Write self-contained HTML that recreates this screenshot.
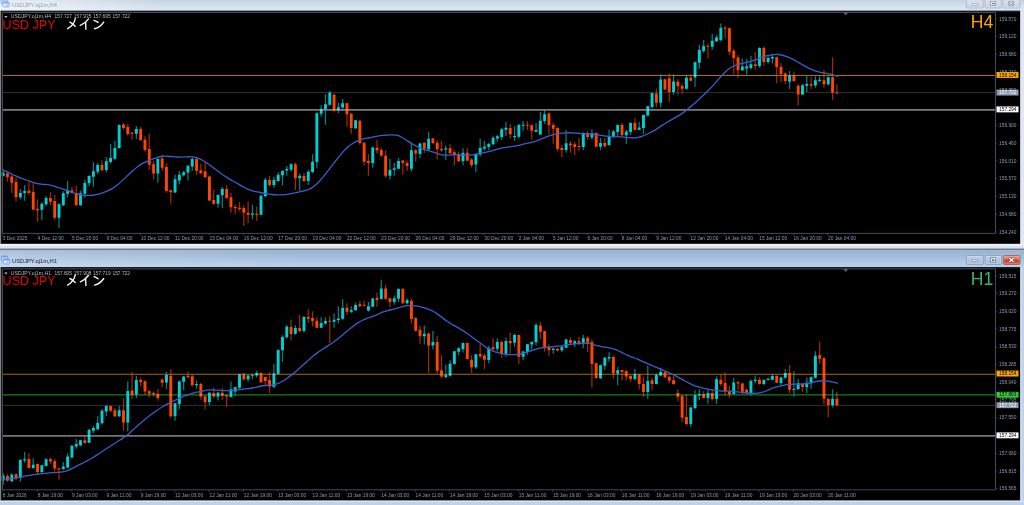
<!DOCTYPE html>
<html><head><meta charset="utf-8"><title>USDJPY</title>
<style>
html,body{margin:0;padding:0;background:#dfe7f2;}
body{width:1024px;height:505px;overflow:hidden;position:relative;font-family:"Liberation Sans",sans-serif;}
svg{position:absolute;left:0;top:0;display:block}
text{font-family:"Liberation Sans",sans-serif;}
</style></head><body>
<svg width="1024" height="505" viewBox="0 0 1024 505">
<defs>
<filter id="bl" x="-0.02" y="-0.02" width="1.04" height="1.04"><feGaussianBlur stdDeviation="0.3"/></filter>
<filter id="bt1" x="-0.05" y="-0.5" width="1.1" height="2"><feGaussianBlur stdDeviation="0.25"/></filter>
<linearGradient id="t1" x1="0" y1="0" x2="0" y2="1"><stop offset="0" stop-color="#c6d4e2"/><stop offset="1" stop-color="#dde9f6"/></linearGradient>
<linearGradient id="t2" x1="0" y1="0" x2="0" y2="1"><stop offset="0" stop-color="#98b2d3"/><stop offset="1" stop-color="#bad1eb"/></linearGradient>
<linearGradient id="hl" x1="0" y1="0" x2="1" y2="0"><stop offset="0" stop-color="#fff" stop-opacity=".55"/><stop offset=".06" stop-color="#fff" stop-opacity=".4"/><stop offset=".16" stop-color="#fff" stop-opacity="0"/><stop offset="1" stop-color="#fff" stop-opacity="0"/></linearGradient>
<linearGradient id="hl2" x1="0" y1="0" x2="1" y2="0"><stop offset="0" stop-color="#fff" stop-opacity=".2"/><stop offset=".08" stop-color="#fff" stop-opacity=".14"/><stop offset=".3" stop-color="#fff" stop-opacity="0"/><stop offset="1" stop-color="#fff" stop-opacity="0"/></linearGradient>
<linearGradient id="bt" x1="0" y1="0" x2="0" y2="1"><stop offset="0" stop-color="#d9e2ef"/><stop offset="1" stop-color="#cbd6e6"/></linearGradient>
<linearGradient id="bt2" x1="0" y1="0" x2="0" y2="1"><stop offset="0" stop-color="#c4d4ec"/><stop offset=".5" stop-color="#b2c6e2"/><stop offset="1" stop-color="#a9bfdd"/></linearGradient>
<linearGradient id="cl" x1="0" y1="0" x2="0" y2="1"><stop offset="0" stop-color="#eeb2a2"/><stop offset=".45" stop-color="#d8634a"/><stop offset=".52" stop-color="#c63c22"/><stop offset="1" stop-color="#da6a50"/></linearGradient>
</defs>
<!-- top (inactive) window -->
<rect x="0" y="0" width="1024" height="250" fill="#dfe7f2"/>
<rect x="0" y="0" width="1024" height="11" fill="url(#t1)"/>
<rect x="0" y="0" width="1024" height="11" fill="url(#hl)"/>
<rect x="0" y="243.8" width="1024" height="5.2" fill="#d9e5f3"/>
<rect x="0" y="243.8" width="1024" height="1.7" fill="#f0f4fa"/>
<rect x="0" y="248.6" width="1024" height="1.6" fill="#62666c"/>
<!-- active window frame -->
<rect x="0" y="249.9" width="1024" height="256" fill="#bdd2ec"/>
<rect x="0" y="249.9" width="1024" height="1" fill="#a9b9cc"/>
<rect x="0" y="250.7" width="1024" height="16.4" fill="url(#t2)"/>
<rect x="0" y="250.7" width="1024" height="16.4" fill="url(#hl2)"/>
<rect x="0" y="10.80" width="1.05" height="233.00" fill="#828282"/>
<rect x="1" y="10.80" width="1019.2" height="233.00" fill="#000"/>
<rect x="1" y="10.80" width="1019.2" height="1.6" fill="#1b1e22"/>
<rect x="1" y="10.80" width="1" height="233.00" fill="#181818"/>
<rect x="1020.1" y="10.80" width="1" height="233.00" fill="#c4c8d0"/>
<rect x="1021.1" y="10.80" width="1" height="233.00" fill="#e4ecf6"/>
<g filter="url(#bl)">
<path d="M3.15 171.54V176.61M20.34 189.03V199.43M24.64 185.23V200.69M41.83 202.21V219.92M46.12 195.88V206.02M59.02 202.97V228.16M63.32 191.19V206.02M67.61 181.05V197.14M80.51 190.81V205.76M84.80 179.40V197.90M89.10 175.35V186.12M93.40 162.04V186.75M97.70 162.93V174.08M106.29 156.97V172.56M110.59 143.96V163.86M114.89 140.80V160.06M119.18 124.57V148.65M136.37 126.10V138.90M157.86 158.24V182.70M175.05 174.71V193.09M179.35 170.91V183.96M183.65 170.91V176.61M187.94 165.21V180.42M192.24 157.60V170.91M218.03 194.36V207.66M222.32 187.01V208.30M252.41 204.81V219.13M261.00 194.42V215.33M265.30 177.69V196.95M273.89 176.42V187.83M278.19 172.24V181.74M282.49 170.08V185.29M286.79 165.90V175.66M291.08 163.23V171.47M299.68 173.50V190.87M308.27 169.70V184.91M312.57 154.36V173.37M316.87 112.46V168.04M321.17 105.23V116.64M325.46 94.08V124.75M329.76 91.29V105.74M338.36 102.70V113.09M342.65 98.90V110.81M355.55 120.06V128.93M372.74 146.50V167.66M389.93 159.03V179.56M394.22 162.84V175.76M398.52 158.02V169.17M411.41 143.07V171.71M420.01 142.81V158.02M428.60 132.04V150.42M445.79 145.60V159.92M462.98 148.13V165.62M475.88 153.58V171.96M480.17 138.47V156.59M484.47 140.75V150.26M488.77 142.65V150.26M493.06 135.94V145.19M497.36 135.05V141.77M501.66 128.08V139.74M505.96 121.74V136.32M514.55 126.18V141.01M518.85 123.64V138.47M523.15 121.11V130.87M536.04 123.01V132.13M540.34 111.86V135.05M544.63 109.70V123.64M566.12 129.98V152.79M583.31 132.13V149.88M591.91 129.35V139.74M600.50 137.88V150.30M609.10 129.39V145.86M613.39 130.02V137.88M617.69 124.32V135.72M626.29 129.77V143.96M630.59 122.42V135.09M639.18 121.78V130.02M643.48 114.56V134.08M647.77 105.69V116.71M652.07 92.63V108.48M660.67 74.22V107.42M673.56 74.22V94.75M686.45 74.85V89.43M695.05 61.80V86.64M699.35 45.05V68.75M703.64 39.98V52.65M712.24 33.64V49.74M716.54 34.91V41.88M720.83 23.50V41.25M742.32 58.38V71.05M746.62 58.76V74.85M750.92 55.84V69.78M759.51 47.20V67.86M768.11 56.46V63.68M772.40 54.81V63.43M789.59 70.91V89.03M802.49 83.96V94.99M806.78 75.98V92.08M815.38 76.36V87.77M819.68 75.98V81.68M828.27 76.61V85.74" stroke="#00d0d2" stroke-width="1.25" opacity=".62" fill="none"/>
<path d="M7.45 172.18V181.68M11.75 175.35V193.09M16.04 177.25V201.71M28.94 181.68V194.61M33.23 183.20V210.83M37.53 199.17V221.82M50.42 192.20V205.13M54.72 194.99V220.30M71.91 187.01V193.72M76.21 185.87V205.51M101.99 160.14V171.29M123.48 123.05V129.64M127.78 123.94V135.73M132.08 131.80V139.78M140.67 127.11V140.42M144.97 136.36V151.82M149.27 134.08V170.20M153.56 160.77V179.40M162.16 154.82V170.91M166.46 163.31V192.84M170.75 189.92V203.86M196.54 158.24V175.09M200.84 163.94V174.08M205.13 162.42V177.88M209.43 175.60V200.95M213.73 189.54V204.75M226.62 185.23V198.79M230.92 192.51V212.79M235.22 204.81V214.06M239.51 202.02V210.89M243.81 205.19V226.10M248.11 201.39V223.31M256.70 206.46V221.03M269.59 175.66V186.56M295.38 162.59V189.98M303.98 173.12V181.74M334.06 93.45V112.46M346.95 102.70V126.78M351.25 113.09V133.83M359.84 120.31V144.71M364.14 142.32V165.51M368.44 154.10V175.76M377.03 139.78V153.72M381.33 147.77V156.89M385.63 150.16V177.66M402.82 159.92V174.75M407.12 160.55V170.69M415.71 149.15V161.82M424.31 142.18V152.95M432.90 137.74V144.33M437.20 140.28V159.29M441.50 140.91V151.68M450.09 144.33V153.96M454.39 150.16V165.37M458.69 151.43V162.08M467.28 147.88V161.57M471.58 158.02V167.52M510.25 124.02V138.85M527.45 121.11V129.98M531.74 124.53V139.49M548.93 112.24V134.16M553.23 122.38V143.54M557.53 127.07V151.52M561.83 144.81V157.23M570.42 141.01V152.79M574.72 142.02V154.95M579.01 137.96V150.89M587.61 131.25V139.74M596.21 132.13V147.34M604.80 137.88V147.76M621.99 123.05V136.10M634.88 118.61V130.65M656.37 88.79V106.91M664.97 78.65V90.06M669.26 73.20V101.85M677.86 79.29V94.75M682.15 83.34V93.86M690.75 74.22V81.19M707.94 43.40V58.61M725.13 25.66V38.71M729.43 27.69V55.19M733.73 48.87V74.22M738.02 54.95V77.77M755.21 52.04V69.78M763.81 46.32V65.71M776.70 56.59V83.20M781.00 63.31V81.68M785.30 72.18V84.22M793.89 71.80V81.68M798.19 83.96V105.13M811.08 77.25V89.03M823.97 70.02V87.77M832.57 57.35V99.68M836.87 83.96V94.10" stroke="#ff4500" stroke-width="1.25" opacity=".62" fill="none"/>
<path d="M1.70 172.56h2.9V175.98h-2.9zM18.89 193.09h2.9V197.14h-2.9zM23.19 190.93h2.9V193.09h-2.9zM40.38 203.86h2.9V209.82h-2.9zM44.67 197.90h2.9V204.24h-2.9zM57.57 204.24h2.9V217.77h-2.9zM61.87 193.34h2.9V205.13h-2.9zM66.16 190.55h2.9V193.72h-2.9zM79.06 193.34h2.9V205.13h-2.9zM83.35 182.95h2.9V193.72h-2.9zM87.65 175.98h2.9V183.20h-2.9zM91.95 171.29h2.9V176.87h-2.9zM96.25 164.95h2.9V171.80h-2.9zM104.84 161.15h2.9V170.02h-2.9zM109.14 157.90h2.9V161.96h-2.9zM113.44 148.02h2.9V158.79h-2.9zM117.73 124.95h2.9V148.02h-2.9zM134.92 129.01h2.9V133.70h-2.9zM156.41 159.12h2.9V173.45h-2.9zM173.60 179.15h2.9V192.46h-2.9zM177.90 174.71h2.9V180.42h-2.9zM182.20 172.18h2.9V175.35h-2.9zM186.49 165.84h2.9V172.56h-2.9zM190.79 159.12h2.9V166.48h-2.9zM216.58 194.99h2.9V203.86h-2.9zM220.87 189.03h2.9V195.37h-2.9zM250.96 213.43h2.9V214.69h-2.9zM259.55 195.68h2.9V214.69h-2.9zM263.85 179.84h2.9V196.32h-2.9zM272.44 180.10h2.9V184.91h-2.9zM276.74 174.77h2.9V181.11h-2.9zM281.04 170.97h2.9V175.15h-2.9zM285.34 169.07h2.9V170.59h-2.9zM289.63 164.24h2.9V169.82h-2.9zM298.23 175.66h2.9V178.19h-2.9zM306.82 171.86h2.9V181.11h-2.9zM311.12 161.71h2.9V172.10h-2.9zM315.42 113.34h2.9V161.96h-2.9zM319.72 109.03h2.9V113.72h-2.9zM324.01 104.22h2.9V109.29h-2.9zM328.31 92.56h2.9V104.85h-2.9zM336.91 107.13h2.9V110.55h-2.9zM341.20 103.20h2.9V107.39h-2.9zM354.10 120.31h2.9V128.30h-2.9zM371.29 147.39h2.9V162.97h-2.9zM388.48 169.81h2.9V175.76h-2.9zM392.77 168.16h2.9V169.81h-2.9zM397.07 160.93h2.9V168.79h-2.9zM409.96 150.16h2.9V168.79h-2.9zM418.56 143.45h2.9V153.96h-2.9zM427.15 138.76h2.9V149.15h-2.9zM444.34 148.13h2.9V149.40h-2.9zM461.53 152.70h2.9V161.19h-2.9zM474.43 154.47h2.9V164.61h-2.9zM478.72 148.10h2.9V154.44h-2.9zM483.02 146.84h2.9V148.61h-2.9zM487.32 143.92h2.9V147.09h-2.9zM491.62 137.96h2.9V144.30h-2.9zM495.91 136.32h2.9V138.47h-2.9zM500.21 129.35h2.9V136.95h-2.9zM504.51 127.83h2.9V129.73h-2.9zM513.10 136.01h2.9V137.01h-2.9zM517.40 124.91h2.9V136.70h-2.9zM521.70 124.85h2.9V125.85h-2.9zM534.59 129.98h2.9V131.63h-2.9zM538.89 120.73h2.9V134.42h-2.9zM543.18 114.14h2.9V121.11h-2.9zM564.67 143.29h2.9V149.88h-2.9zM581.86 133.40h2.9V147.09h-2.9zM590.46 133.40h2.9V137.58h-2.9zM599.05 142.95h2.9V146.75h-2.9zM607.65 136.61h2.9V144.97h-2.9zM611.94 131.54h2.9V136.99h-2.9zM616.24 124.95h2.9V131.92h-2.9zM624.84 131.54h2.9V135.34h-2.9zM629.13 123.05h2.9V131.92h-2.9zM637.73 127.49h2.9V129.77h-2.9zM642.03 115.07h2.9V128.12h-2.9zM646.32 106.19h2.9V115.45h-2.9zM650.62 93.01h2.9V106.95h-2.9zM659.22 79.54h2.9V102.73h-2.9zM672.11 81.57h2.9V92.21h-2.9zM685.00 77.77h2.9V88.79h-2.9zM693.60 62.18h2.9V77.39h-2.9zM697.89 50.12h2.9V62.79h-2.9zM702.19 45.94h2.9V51.01h-2.9zM710.79 40.87h2.9V46.70h-2.9zM715.09 37.45h2.9V41.25h-2.9zM719.38 27.69h2.9V40.36h-2.9zM740.87 66.61h2.9V70.16h-2.9zM745.17 66.61h2.9V68.51h-2.9zM749.47 64.33h2.9V67.88h-2.9zM758.06 47.96h2.9V65.96h-2.9zM766.65 57.72h2.9V61.90h-2.9zM770.95 57.09h2.9V58.61h-2.9zM788.14 75.60h2.9V81.68h-2.9zM801.03 85.23h2.9V94.61h-2.9zM805.33 83.96h2.9V85.74h-2.9zM813.93 80.16h2.9V85.49h-2.9zM818.23 79.78h2.9V81.05h-2.9zM826.82 77.25h2.9V84.22h-2.9z" fill="#00d0d2"/>
<path d="M6.00 173.45h2.9V176.99h-2.9zM10.30 176.61h2.9V182.70h-2.9zM14.59 181.94h2.9V197.14h-2.9zM27.49 190.81h2.9V193.09h-2.9zM31.78 192.08h2.9V209.56h-2.9zM36.08 208.90h2.9V210.16h-2.9zM48.97 197.90h2.9V201.71h-2.9zM53.27 200.95h2.9V217.77h-2.9zM70.46 190.30h2.9V193.09h-2.9zM74.76 193.09h2.9V205.13h-2.9zM100.54 164.95h2.9V170.28h-2.9zM122.03 124.57h2.9V128.12h-2.9zM126.33 127.11h2.9V134.08h-2.9zM130.63 132.81h2.9V133.83h-2.9zM139.22 129.01h2.9V140.16h-2.9zM143.52 139.78h2.9V149.92h-2.9zM147.82 149.03h2.9V164.75h-2.9zM152.11 164.19h2.9V173.45h-2.9zM160.71 158.62h2.9V167.74h-2.9zM165.01 167.11h2.9V190.93h-2.9zM169.30 190.30h2.9V192.20h-2.9zM195.09 159.12h2.9V170.66h-2.9zM199.39 170.28h2.9V173.19h-2.9zM203.68 171.29h2.9V177.25h-2.9zM207.98 176.61h2.9V200.44h-2.9zM212.28 200.06h2.9V203.86h-2.9zM225.17 189.03h2.9V197.90h-2.9zM229.47 197.20h2.9V207.34h-2.9zM233.77 207.09h2.9V208.36h-2.9zM238.06 207.72h2.9V208.99h-2.9zM242.36 208.10h2.9V212.79h-2.9zM246.66 212.79h2.9V214.69h-2.9zM255.25 213.81h2.9V214.95h-2.9zM268.14 180.10h2.9V184.91h-2.9zM293.93 164.24h2.9V178.19h-2.9zM302.53 176.04h2.9V181.11h-2.9zM332.61 94.71h2.9V110.55h-2.9zM345.50 103.20h2.9V114.36h-2.9zM349.80 113.72h2.9V128.04h-2.9zM358.39 120.69h2.9V143.07h-2.9zM362.69 142.70h2.9V161.71h-2.9zM366.99 160.95h2.9V162.97h-2.9zM375.58 147.77h2.9V150.55h-2.9zM379.88 149.92h2.9V155.62h-2.9zM384.18 155.87h2.9V175.76h-2.9zM401.37 160.55h2.9V163.09h-2.9zM405.67 163.09h2.9V165.88h-2.9zM414.26 150.16h2.9V153.58h-2.9zM422.86 142.81h2.9V148.51h-2.9zM431.45 138.38h2.9V143.07h-2.9zM435.75 142.81h2.9V149.15h-2.9zM440.05 148.90h2.9V150.16h-2.9zM448.64 148.13h2.9V152.95h-2.9zM452.94 152.32h2.9V153.96h-2.9zM457.24 153.96h2.9V161.19h-2.9zM465.83 152.70h2.9V160.81h-2.9zM470.13 159.54h2.9V164.99h-2.9zM508.81 128.08h2.9V134.16h-2.9zM526.00 124.85h2.9V125.85h-2.9zM530.29 125.29h2.9V130.87h-2.9zM547.48 113.50h2.9V124.91h-2.9zM551.78 124.91h2.9V128.71h-2.9zM556.08 128.08h2.9V148.99h-2.9zM560.38 148.10h2.9V149.88h-2.9zM568.97 143.54h2.9V145.19h-2.9zM573.27 144.30h2.9V147.09h-2.9zM577.56 146.08h2.9V147.09h-2.9zM586.16 133.40h2.9V136.95h-2.9zM594.75 132.90h2.9V146.84h-2.9zM603.35 142.95h2.9V146.24h-2.9zM620.54 124.95h2.9V135.09h-2.9zM633.43 123.05h2.9V129.77h-2.9zM654.92 93.48h2.9V102.73h-2.9zM663.51 79.29h2.9V89.43h-2.9zM667.81 78.27h2.9V91.96h-2.9zM676.41 81.82h2.9V86.26h-2.9zM680.70 85.88h2.9V88.79h-2.9zM689.30 77.77h2.9V80.81h-2.9zM706.49 45.68h2.9V46.70h-2.9zM723.68 27.69h2.9V28.70h-2.9zM727.98 28.19h2.9V51.77h-2.9zM732.27 50.77h2.9V58.00h-2.9zM736.57 57.49h2.9V70.16h-2.9zM753.76 64.33h2.9V65.98h-2.9zM762.36 47.96h2.9V61.90h-2.9zM775.25 57.35h2.9V67.11h-2.9zM779.55 66.73h2.9V74.08h-2.9zM783.85 73.45h2.9V81.05h-2.9zM792.44 75.35h2.9V81.05h-2.9zM796.74 85.74h2.9V94.61h-2.9zM809.63 83.96h2.9V85.49h-2.9zM822.52 80.16h2.9V84.22h-2.9zM831.12 77.25h2.9V92.84h-2.9zM835.41 92.40h2.9V93.40h-2.9z" fill="#ff4500"/>
</g>
<path d="M2.5 75.45H995.5" stroke="#b67800" stroke-width="1.0" style="mix-blend-mode:lighten"/>
<path d="M2.5 92.55H995.5" stroke="#303030" stroke-width="1.0" style="mix-blend-mode:lighten"/>
<path d="M2.5 109.95H995.5" stroke="#7c7c7c" stroke-width="1.8" style="mix-blend-mode:lighten"/>
<g filter="url(#bl)">
<path d="M2.53 169.64C3.37 170.06 5.87 171.33 7.53 172.14C9.20 172.96 10.87 173.77 12.53 174.52C14.20 175.27 15.87 175.97 17.53 176.65C19.20 177.34 20.87 177.99 22.53 178.63C24.20 179.27 25.87 179.90 27.53 180.51C29.20 181.12 30.87 181.77 32.53 182.30C34.20 182.83 35.87 183.35 37.53 183.68C39.20 184.01 40.87 184.11 42.53 184.28C44.20 184.45 45.87 184.44 47.53 184.68C49.20 184.92 50.87 185.28 52.53 185.71C54.20 186.15 55.87 186.75 57.53 187.28C59.20 187.82 60.87 188.38 62.53 188.94C64.20 189.49 65.87 190.03 67.53 190.60C69.20 191.16 70.87 191.78 72.53 192.35C74.20 192.92 75.87 193.54 77.53 193.99C79.20 194.45 80.87 194.85 82.53 195.09C84.20 195.34 85.87 195.43 87.53 195.45C89.20 195.48 90.87 195.41 92.53 195.23C94.20 195.05 95.87 194.76 97.53 194.36C99.20 193.96 100.87 193.40 102.53 192.81C104.20 192.22 105.87 191.57 107.53 190.82C109.20 190.08 110.87 189.34 112.53 188.34C114.20 187.34 115.87 186.14 117.53 184.82C119.20 183.49 120.87 181.90 122.53 180.37C124.20 178.84 125.87 177.22 127.53 175.65C129.20 174.08 130.87 172.45 132.53 170.96C134.20 169.47 135.87 167.97 137.53 166.71C139.20 165.46 140.87 164.37 142.53 163.44C144.20 162.50 145.87 161.81 147.53 161.10C149.20 160.39 150.87 159.81 152.53 159.19C154.20 158.58 155.87 157.90 157.53 157.42C159.20 156.93 160.87 156.47 162.53 156.27C164.20 156.07 165.87 156.16 167.53 156.23C169.20 156.29 170.87 156.55 172.53 156.68C174.20 156.81 175.87 156.95 177.53 157.01C179.20 157.07 180.87 157.06 182.53 157.03C184.20 156.99 185.87 156.81 187.53 156.78C189.20 156.75 190.87 156.63 192.53 156.82C194.20 157.01 195.87 157.31 197.53 157.89C199.20 158.47 200.87 159.36 202.53 160.31C204.20 161.25 205.87 162.41 207.53 163.55C209.20 164.68 210.87 165.92 212.53 167.14C214.20 168.36 215.87 169.62 217.53 170.85C219.20 172.07 220.87 173.30 222.53 174.47C224.20 175.64 225.87 176.80 227.53 177.85C229.20 178.91 230.87 179.86 232.53 180.81C234.20 181.76 235.87 182.62 237.53 183.56C239.20 184.50 240.87 185.52 242.53 186.44C244.20 187.35 245.87 188.32 247.53 189.04C249.20 189.77 250.87 190.29 252.53 190.78C254.20 191.27 255.87 191.61 257.53 191.98C259.20 192.35 260.87 192.70 262.53 193.01C264.20 193.32 265.87 193.58 267.53 193.83C269.20 194.07 270.87 194.31 272.53 194.48C274.20 194.65 275.87 194.81 277.53 194.86C279.20 194.92 280.87 194.92 282.53 194.83C284.20 194.74 285.87 194.56 287.53 194.32C289.20 194.07 290.87 193.71 292.53 193.36C294.20 193.02 295.87 192.60 297.53 192.25C299.20 191.89 300.87 191.63 302.53 191.23C304.20 190.83 305.87 190.51 307.53 189.86C309.20 189.22 310.87 188.49 312.53 187.39C314.20 186.29 315.87 184.90 317.53 183.27C319.20 181.65 320.87 179.61 322.53 177.62C324.20 175.63 325.87 173.43 327.53 171.32C329.20 169.20 330.87 167.06 332.53 164.92C334.20 162.79 335.87 160.60 337.53 158.51C339.20 156.42 340.87 154.25 342.53 152.37C344.20 150.48 345.87 148.67 347.53 147.19C349.20 145.70 350.87 144.52 352.53 143.46C354.20 142.39 355.87 141.54 357.53 140.81C359.20 140.09 360.87 139.54 362.53 139.10C364.20 138.65 365.87 138.45 367.53 138.14C369.20 137.82 370.87 137.54 372.53 137.21C374.20 136.87 375.87 136.43 377.53 136.12C379.20 135.81 380.87 135.52 382.53 135.34C384.20 135.15 385.87 135.09 387.53 135.01C389.20 134.92 390.87 134.75 392.53 134.82C394.20 134.89 395.87 134.94 397.53 135.43C399.20 135.91 400.87 136.81 402.53 137.72C404.20 138.63 405.87 139.85 407.53 140.89C409.20 141.93 410.87 143.00 412.53 143.97C414.20 144.94 415.87 145.90 417.53 146.71C419.20 147.52 420.87 148.23 422.53 148.86C424.20 149.49 425.87 149.97 427.53 150.49C429.20 151.01 430.87 151.45 432.53 151.97C434.20 152.48 435.87 153.10 437.53 153.58C439.20 154.05 440.87 154.56 442.53 154.83C444.20 155.09 445.87 155.14 447.53 155.14C449.20 155.14 450.87 154.89 452.53 154.80C454.20 154.71 455.87 154.58 457.53 154.61C459.20 154.63 460.87 154.86 462.53 154.97C464.20 155.08 465.87 155.31 467.53 155.29C469.20 155.27 470.87 155.09 472.53 154.84C474.20 154.59 475.87 154.13 477.53 153.80C479.20 153.47 480.87 153.16 482.53 152.85C484.20 152.53 485.87 152.28 487.53 151.91C489.20 151.53 490.87 151.06 492.53 150.58C494.20 150.10 495.87 149.51 497.53 149.05C499.20 148.59 500.87 148.15 502.53 147.82C504.20 147.50 505.87 147.33 507.53 147.10C509.20 146.88 510.87 146.74 512.53 146.47C514.20 146.21 515.87 145.88 517.53 145.52C519.20 145.17 520.87 144.73 522.53 144.34C524.20 143.95 525.87 143.56 527.53 143.19C529.20 142.83 530.87 142.56 532.53 142.13C534.20 141.70 535.87 141.22 537.53 140.61C539.20 140.00 540.87 139.15 542.53 138.46C544.20 137.76 545.87 137.05 547.53 136.45C549.20 135.85 550.87 135.33 552.53 134.87C554.20 134.41 555.87 133.97 557.53 133.67C559.20 133.37 560.87 133.20 562.53 133.06C564.20 132.91 565.87 132.83 567.53 132.79C569.20 132.75 570.87 132.75 572.53 132.83C574.20 132.90 575.87 133.13 577.53 133.26C579.20 133.39 580.87 133.55 582.53 133.63C584.20 133.71 585.87 133.69 587.53 133.75C589.20 133.81 590.87 133.84 592.53 133.99C594.20 134.14 595.87 134.38 597.53 134.64C599.20 134.90 600.87 135.27 602.53 135.53C604.20 135.79 605.87 136.04 607.53 136.20C609.20 136.35 610.87 136.40 612.53 136.46C614.20 136.53 615.87 136.51 617.53 136.59C619.20 136.67 620.87 136.78 622.53 136.94C624.20 137.10 625.87 137.38 627.53 137.56C629.20 137.74 630.87 137.99 632.53 138.00C634.20 138.00 635.87 137.92 637.53 137.61C639.20 137.30 640.87 136.77 642.53 136.16C644.20 135.56 645.87 134.77 647.53 133.98C649.20 133.19 650.87 132.35 652.53 131.43C654.20 130.51 655.87 129.50 657.53 128.45C659.20 127.40 660.87 126.23 662.53 125.14C664.20 124.06 665.87 122.96 667.53 121.95C669.20 120.94 670.87 120.03 672.53 119.09C674.20 118.16 675.87 117.31 677.53 116.32C679.20 115.33 680.87 114.30 682.53 113.14C684.20 111.97 685.87 110.68 687.53 109.34C689.20 108.01 690.87 106.56 692.53 105.11C694.20 103.67 695.87 102.17 697.53 100.67C699.20 99.16 700.87 97.64 702.53 96.08C704.20 94.53 705.87 92.97 707.53 91.32C709.20 89.66 710.87 87.96 712.53 86.15C714.20 84.33 715.87 82.33 717.53 80.42C719.20 78.51 720.87 76.43 722.53 74.68C724.20 72.92 725.87 71.24 727.53 69.89C729.20 68.53 730.87 67.44 732.53 66.55C734.20 65.66 735.87 65.09 737.53 64.55C739.20 64.01 740.87 63.72 742.53 63.33C744.20 62.95 745.87 62.66 747.53 62.24C749.20 61.82 750.87 61.33 752.53 60.79C754.20 60.26 755.87 59.61 757.53 59.02C759.20 58.42 760.87 57.78 762.53 57.23C764.20 56.67 765.87 56.12 767.53 55.71C769.20 55.29 770.87 54.94 772.53 54.74C774.20 54.54 775.87 54.41 777.53 54.49C779.20 54.58 780.87 54.85 782.53 55.25C784.20 55.66 785.87 56.27 787.53 56.93C789.20 57.58 790.87 58.34 792.53 59.16C794.20 59.99 795.87 60.94 797.53 61.88C799.20 62.82 800.87 63.83 802.53 64.78C804.20 65.73 805.87 66.72 807.53 67.57C809.20 68.42 810.87 69.21 812.53 69.88C814.20 70.55 815.87 71.11 817.53 71.59C819.20 72.07 820.87 72.42 822.53 72.75C824.20 73.07 825.87 73.22 827.53 73.54C829.20 73.86 830.91 74.20 832.53 74.67C834.16 75.14 836.51 76.08 837.31 76.36" stroke="#3d5ccc" stroke-width="1.3" fill="none" stroke-linejoin="round" stroke-linecap="round"/>
</g>
<path d="M2.5 12.50V233.40H995.5V12.50H2.5" stroke="#414b5c" stroke-width="1" fill="none"/>
<path d="M843.2 12.50h5l-2.5 3.1z" fill="#626262"/>
<path d="M3.00 233.40v2" stroke="#414b5c" stroke-width=".8"/>
<text filter="url(#bt1)" x="2.70" y="240.20" font-size="4.85" fill="#8a9bb2" text-anchor="start" >3 Dec 2025</text>
<path d="M37.36 233.40v2" stroke="#414b5c" stroke-width=".8"/>
<text filter="url(#bt1)" x="37.66" y="240.20" font-size="4.85" fill="#8a9bb2" text-anchor="start" >4 Dec 12:00</text>
<path d="M71.72 233.40v2" stroke="#414b5c" stroke-width=".8"/>
<text filter="url(#bt1)" x="72.02" y="240.20" font-size="4.85" fill="#8a9bb2" text-anchor="start" >5 Dec 20:00</text>
<path d="M106.08 233.40v2" stroke="#414b5c" stroke-width=".8"/>
<text filter="url(#bt1)" x="106.38" y="240.20" font-size="4.85" fill="#8a9bb2" text-anchor="start" >9 Dec 04:00</text>
<path d="M140.44 233.40v2" stroke="#414b5c" stroke-width=".8"/>
<text filter="url(#bt1)" x="140.74" y="240.20" font-size="4.85" fill="#8a9bb2" text-anchor="start" >10 Dec 12:00</text>
<path d="M174.80 233.40v2" stroke="#414b5c" stroke-width=".8"/>
<text filter="url(#bt1)" x="175.10" y="240.20" font-size="4.85" fill="#8a9bb2" text-anchor="start" >11 Dec 20:00</text>
<path d="M209.16 233.40v2" stroke="#414b5c" stroke-width=".8"/>
<text filter="url(#bt1)" x="209.46" y="240.20" font-size="4.85" fill="#8a9bb2" text-anchor="start" >15 Dec 04:00</text>
<path d="M243.52 233.40v2" stroke="#414b5c" stroke-width=".8"/>
<text filter="url(#bt1)" x="243.82" y="240.20" font-size="4.85" fill="#8a9bb2" text-anchor="start" >16 Dec 12:00</text>
<path d="M277.88 233.40v2" stroke="#414b5c" stroke-width=".8"/>
<text filter="url(#bt1)" x="278.18" y="240.20" font-size="4.85" fill="#8a9bb2" text-anchor="start" >17 Dec 20:00</text>
<path d="M312.24 233.40v2" stroke="#414b5c" stroke-width=".8"/>
<text filter="url(#bt1)" x="312.54" y="240.20" font-size="4.85" fill="#8a9bb2" text-anchor="start" >19 Dec 04:00</text>
<path d="M346.60 233.40v2" stroke="#414b5c" stroke-width=".8"/>
<text filter="url(#bt1)" x="346.90" y="240.20" font-size="4.85" fill="#8a9bb2" text-anchor="start" >22 Dec 12:00</text>
<path d="M380.96 233.40v2" stroke="#414b5c" stroke-width=".8"/>
<text filter="url(#bt1)" x="381.26" y="240.20" font-size="4.85" fill="#8a9bb2" text-anchor="start" >23 Dec 20:00</text>
<path d="M415.32 233.40v2" stroke="#414b5c" stroke-width=".8"/>
<text filter="url(#bt1)" x="415.62" y="240.20" font-size="4.85" fill="#8a9bb2" text-anchor="start" >26 Dec 04:00</text>
<path d="M449.68 233.40v2" stroke="#414b5c" stroke-width=".8"/>
<text filter="url(#bt1)" x="449.98" y="240.20" font-size="4.85" fill="#8a9bb2" text-anchor="start" >29 Dec 12:00</text>
<path d="M484.04 233.40v2" stroke="#414b5c" stroke-width=".8"/>
<text filter="url(#bt1)" x="484.34" y="240.20" font-size="4.85" fill="#8a9bb2" text-anchor="start" >30 Dec 20:00</text>
<path d="M518.40 233.40v2" stroke="#414b5c" stroke-width=".8"/>
<text filter="url(#bt1)" x="518.70" y="240.20" font-size="4.85" fill="#8a9bb2" text-anchor="start" >2 Jan 04:00</text>
<path d="M552.76 233.40v2" stroke="#414b5c" stroke-width=".8"/>
<text filter="url(#bt1)" x="553.06" y="240.20" font-size="4.85" fill="#8a9bb2" text-anchor="start" >5 Jan 12:00</text>
<path d="M587.12 233.40v2" stroke="#414b5c" stroke-width=".8"/>
<text filter="url(#bt1)" x="587.42" y="240.20" font-size="4.85" fill="#8a9bb2" text-anchor="start" >6 Jan 20:00</text>
<path d="M621.48 233.40v2" stroke="#414b5c" stroke-width=".8"/>
<text filter="url(#bt1)" x="621.78" y="240.20" font-size="4.85" fill="#8a9bb2" text-anchor="start" >8 Jan 04:00</text>
<path d="M655.84 233.40v2" stroke="#414b5c" stroke-width=".8"/>
<text filter="url(#bt1)" x="656.14" y="240.20" font-size="4.85" fill="#8a9bb2" text-anchor="start" >9 Jan 12:00</text>
<path d="M690.20 233.40v2" stroke="#414b5c" stroke-width=".8"/>
<text filter="url(#bt1)" x="690.50" y="240.20" font-size="4.85" fill="#8a9bb2" text-anchor="start" >12 Jan 20:00</text>
<path d="M724.56 233.40v2" stroke="#414b5c" stroke-width=".8"/>
<text filter="url(#bt1)" x="724.86" y="240.20" font-size="4.85" fill="#8a9bb2" text-anchor="start" >14 Jan 04:00</text>
<path d="M758.92 233.40v2" stroke="#414b5c" stroke-width=".8"/>
<text filter="url(#bt1)" x="759.22" y="240.20" font-size="4.85" fill="#8a9bb2" text-anchor="start" >15 Jan 12:00</text>
<path d="M793.28 233.40v2" stroke="#414b5c" stroke-width=".8"/>
<text filter="url(#bt1)" x="793.58" y="240.20" font-size="4.85" fill="#8a9bb2" text-anchor="start" >16 Jan 20:00</text>
<path d="M827.64 233.40v2" stroke="#414b5c" stroke-width=".8"/>
<text filter="url(#bt1)" x="827.94" y="240.20" font-size="4.85" fill="#8a9bb2" text-anchor="start" >20 Jan 04:00</text>
<path d="M995.5 18.95h1.6" stroke="#414b5c" stroke-width=".8"/>
<text filter="url(#bt1)" x="999.00" y="20.65" font-size="4.85" fill="#8a9bb2" text-anchor="start" >159.570</text>
<path d="M995.5 36.70h1.6" stroke="#414b5c" stroke-width=".8"/>
<text filter="url(#bt1)" x="999.00" y="38.40" font-size="4.85" fill="#8a9bb2" text-anchor="start" >159.120</text>
<path d="M995.5 54.45h1.6" stroke="#414b5c" stroke-width=".8"/>
<text filter="url(#bt1)" x="999.00" y="56.15" font-size="4.85" fill="#8a9bb2" text-anchor="start" >158.680</text>
<path d="M995.5 72.20h1.6" stroke="#414b5c" stroke-width=".8"/>
<text filter="url(#bt1)" x="999.00" y="73.90" font-size="4.85" fill="#8a9bb2" text-anchor="start" >158.240</text>
<path d="M995.5 89.95h1.6" stroke="#414b5c" stroke-width=".8"/>
<text filter="url(#bt1)" x="999.00" y="91.65" font-size="4.85" fill="#8a9bb2" text-anchor="start" >157.790</text>
<path d="M995.5 107.70h1.6" stroke="#414b5c" stroke-width=".8"/>
<text filter="url(#bt1)" x="999.00" y="109.40" font-size="4.85" fill="#8a9bb2" text-anchor="start" ></text>
<path d="M995.5 125.45h1.6" stroke="#414b5c" stroke-width=".8"/>
<text filter="url(#bt1)" x="999.00" y="127.15" font-size="4.85" fill="#8a9bb2" text-anchor="start" >156.900</text>
<path d="M995.5 143.20h1.6" stroke="#414b5c" stroke-width=".8"/>
<text filter="url(#bt1)" x="999.00" y="144.90" font-size="4.85" fill="#8a9bb2" text-anchor="start" >156.460</text>
<path d="M995.5 160.95h1.6" stroke="#414b5c" stroke-width=".8"/>
<text filter="url(#bt1)" x="999.00" y="162.65" font-size="4.85" fill="#8a9bb2" text-anchor="start" >156.010</text>
<path d="M995.5 178.70h1.6" stroke="#414b5c" stroke-width=".8"/>
<text filter="url(#bt1)" x="999.00" y="180.40" font-size="4.85" fill="#8a9bb2" text-anchor="start" >155.570</text>
<path d="M995.5 196.45h1.6" stroke="#414b5c" stroke-width=".8"/>
<text filter="url(#bt1)" x="999.00" y="198.15" font-size="4.85" fill="#8a9bb2" text-anchor="start" >155.130</text>
<path d="M995.5 214.20h1.6" stroke="#414b5c" stroke-width=".8"/>
<text filter="url(#bt1)" x="999.00" y="215.90" font-size="4.85" fill="#8a9bb2" text-anchor="start" >154.680</text>
<path d="M995.5 231.95h1.6" stroke="#414b5c" stroke-width=".8"/>
<text filter="url(#bt1)" x="999.00" y="233.65" font-size="4.85" fill="#8a9bb2" text-anchor="start" >154.240</text>
<rect x="996.5" y="72.05" width="22" height="5.9" fill="#ffa500"/>
<text filter="url(#bt1)" x="999.00" y="76.70" font-size="4.85" fill="#000" text-anchor="start" >158.154</text>
<rect x="996.5" y="89.65" width="22" height="5.9" fill="#8c9bb0"/>
<text filter="url(#bt1)" x="999.00" y="94.30" font-size="4.85" fill="#fff" text-anchor="start" >157.722</text>
<rect x="996.5" y="106.45" width="22" height="5.9" fill="#fff"/>
<text filter="url(#bt1)" x="999.00" y="111.10" font-size="4.85" fill="#000" text-anchor="start" >157.294</text>
<path d="M4.3 16.10h3.3l-1.65 2z" fill="#c4c4c4"/>
<text filter="url(#bt1)" x="10.80" y="18.25" font-size="4.85" fill="#b8bcc2" text-anchor="start" textLength="40.2" lengthAdjust="spacingAndGlyphs">USDJPY.oj1m,H4</text>
<text filter="url(#bt1)" x="54.50" y="18.25" font-size="4.85" fill="#b8bcc2" text-anchor="start" textLength="17.5" lengthAdjust="spacingAndGlyphs">157.727</text>
<text filter="url(#bt1)" x="73.83" y="18.25" font-size="4.85" fill="#b8bcc2" text-anchor="start" textLength="17.5" lengthAdjust="spacingAndGlyphs">157.935</text>
<text filter="url(#bt1)" x="93.16" y="18.25" font-size="4.85" fill="#b8bcc2" text-anchor="start" textLength="17.5" lengthAdjust="spacingAndGlyphs">157.695</text>
<text filter="url(#bt1)" x="112.49" y="18.25" font-size="4.85" fill="#b8bcc2" text-anchor="start" textLength="17.5" lengthAdjust="spacingAndGlyphs">157.722</text>
<text filter="url(#bt1)" x="2.60" y="28.90" font-size="12.55" fill="#e80000" text-anchor="start" >USD JPY</text>
<g filter="url(#bt1)" transform="translate(67,19.40)" stroke="#f2f2f2" stroke-width="1.4" fill="none" stroke-linecap="round"><path d="M8.2 -.6C7.4 3.4 4.6 7 .6 9.3"/><path d="M2.9 2.7C4.9 3.7 6.8 5.2 8.2 6.8"/><path d="M21.4 -.3C19.4 2.4 16.6 4.6 13.3 6"/><path d="M18.65 3.2L18.9 9.8"/><path d="M27 .9C28.5 1.4 30 2.1 31.1 3"/><path d="M36.7 2.7C34.6 6 31.4 8.4 27.5 9.3"/></g>
<text filter="url(#bt1)" x="993.20" y="28.20" font-size="17.6" fill="#ffa500" text-anchor="end" >H4</text>
<rect x="0" y="267.10" width="1.05" height="233.50" fill="#828282"/>
<rect x="1" y="267.10" width="1019.2" height="233.50" fill="#000"/>
<rect x="1" y="267.10" width="1019.2" height="1.6" fill="#1b1e22"/>
<rect x="1" y="267.10" width="1" height="233.50" fill="#181818"/>
<rect x="1020.1" y="267.10" width="1" height="233.50" fill="#c4c8d0"/>
<rect x="1021.1" y="267.10" width="1" height="233.50" fill="#cfdff2"/>
<rect x="0" y="500.60" width="1024" height="1.3" fill="#dbe6f4"/>
<g filter="url(#bl)">
<path d="M3.15 472.89V484.93M11.75 473.14V482.02M20.34 459.20V481.76M24.64 451.98V462.75M33.23 458.32V468.84M41.83 464.65V472.89M46.12 458.32V466.55M63.32 462.12V469.72M67.61 453.25V468.08M71.91 445.01V458.32M76.21 438.93V448.81M80.51 439.69V446.53M89.10 429.17V443.11M93.40 425.76V433.37M97.70 416.26V430.20M101.99 409.03V424.50M106.29 404.47V415.88M119.18 406.12V416.89M127.78 381.15V431.47M136.37 375.70V397.88M166.46 371.52V389.01M175.05 402.70V420.69M179.35 380.14V409.29M183.65 376.08V390.28M196.54 380.39V388.76M209.43 392.16V405.47M218.03 391.90V400.40M230.92 381.39V397.48M235.22 386.84V396.21M239.51 373.78V389.37M248.11 375.05V381.77M252.41 374.16V379.23M256.70 370.87V377.58M273.89 364.02V388.10M278.19 349.32V374.16M282.49 335.33V361.74M286.79 325.19V338.75M295.38 325.19V334.69M303.98 316.32V332.79M321.17 317.20V328.10M325.46 317.58V324.81M334.06 313.40V327.72M338.36 306.18V323.29M342.65 299.21V320.12M351.25 306.18V312.90M355.55 302.38V310.87M368.44 302.00V311.63M372.74 297.94V307.07M381.33 280.08V299.60M394.22 295.54V304.67M398.52 288.19V301.88M407.12 298.33V304.42M424.31 325.55V344.56M432.90 331.12V349.25M445.79 364.84V377.76M450.09 360.27V376.75M454.39 350.90V364.46M458.69 347.35V355.58M462.98 342.53V352.42M475.88 353.94V368.64M488.77 346.08V363.19M497.36 338.22V351.40M505.96 337.84V356.85M514.55 333.74V347.05M523.15 350.85V360.36M527.45 343.88V354.65M531.74 341.35V349.58M536.04 323.35V345.40M553.23 347.68V353.77M561.83 345.40V352.12M566.12 338.81V348.32M574.72 340.08V347.05M583.31 334.76V348.32M600.50 364.57V378.90M604.80 356.97V369.64M609.10 352.28V361.66M617.69 367.11V385.23M634.88 369.01V380.42M647.77 365.84V398.79M656.37 373.45V384.47M660.67 367.74V376.36M690.75 406.95V426.97M695.05 390.22V408.85M699.35 389.21V399.98M707.94 389.46V403.78M716.54 376.28V403.78M733.73 377.80V394.53M750.92 379.32V395.80M755.21 375.54V383.14M763.81 379.34V385.17M768.11 377.19V380.61M772.40 374.02V380.36M781.00 376.81V385.17M785.30 368.95V378.46M793.89 371.23V396.83M798.19 379.09V389.86M806.78 377.57V393.03M811.08 376.30V388.97M815.38 351.21V378.84M832.57 389.31V407.43" stroke="#00d0d2" stroke-width="1.25" opacity=".62" fill="none"/>
<path d="M7.45 473.52V481.51M16.04 473.14V480.24M28.94 453.25V468.46M37.53 463.77V474.16M50.42 457.68V463.77M54.72 458.70V471.62M59.02 467.82V479.86M84.80 436.14V443.74M110.59 405.23V412.08M114.89 408.02V416.89M123.48 398.13V430.83M132.08 371.90V398.90M140.67 377.60V386.22M144.97 380.14V394.71M149.27 390.28V397.63M153.56 391.54V396.87M157.86 389.01V400.67M162.16 378.87V387.11M170.75 369.37V417.90M187.94 371.52V377.86M192.24 374.44V386.22M200.84 382.65V399.76M205.13 395.33V409.27M213.73 387.72V397.86M222.32 388.10V399.76M226.62 394.44V406.73M243.81 372.90V380.75M261.00 372.13V382.65M265.30 376.70V386.46M269.59 372.13V393.17M291.08 319.49V340.40M299.68 314.67V332.16M308.27 309.35V322.65M312.57 311.25V326.46M316.87 317.20V328.10M329.76 316.32V342.93M346.95 303.26V315.05M359.84 301.11V307.45M364.14 300.73V306.18M377.03 292.38V306.70M385.63 284.77V299.98M389.93 297.83V306.95M402.82 287.94V303.78M411.41 298.71V323.43M415.71 317.09V331.66M420.01 325.80V343.80M428.60 332.77V372.69M437.20 335.94V373.71M441.50 355.20V378.02M467.28 342.53V359.39M471.58 355.20V372.95M480.17 343.80V358.12M484.47 353.43V369.14M493.06 338.22V350.13M501.66 340.38V358.12M510.25 332.48V353.39M518.85 334.76V363.90M540.34 321.70V339.07M544.63 330.95V351.49M548.93 344.13V355.92M557.53 347.68V351.49M570.42 337.29V343.63M579.01 336.91V344.90M587.61 336.28V352.12M591.91 339.45V387.48M596.21 362.89V378.73M613.39 356.08V378.51M621.99 369.64V380.42M626.29 369.64V380.42M630.59 375.09V381.68M639.18 373.83V389.54M643.48 376.61V396.89M652.07 377.88V389.92M664.97 370.91V378.51M669.26 376.36V383.58M673.56 375.98V384.85M677.86 389.21V401.25M682.15 395.54V421.90M686.45 394.28V425.71M703.64 391.11V398.71M712.24 390.22V400.61M720.83 374.63V385.66M725.13 372.73V395.54M729.43 385.66V398.08M738.02 380.59V390.48M742.32 382.87V394.28M746.62 388.57V394.28M759.51 377.19V384.79M776.70 375.29V383.14M789.59 364.90V393.03M802.49 383.14V392.02M819.68 341.70V363.63M823.97 356.91V403.88M828.27 398.56V417.19M836.87 391.84V405.78" stroke="#ff4500" stroke-width="1.25" opacity=".62" fill="none"/>
<path d="M1.70 475.43h2.9V480.50h-2.9zM10.30 474.79h2.9V481.13h-2.9zM18.89 459.96h2.9V477.96h-2.9zM23.19 459.20h2.9V460.47h-2.9zM31.78 464.65h2.9V468.08h-2.9zM40.38 465.29h2.9V471.88h-2.9zM44.67 459.20h2.9V465.92h-2.9zM61.87 466.55h2.9V469.09h-2.9zM66.16 456.42h2.9V467.57h-2.9zM70.46 445.64h2.9V457.43h-2.9zM74.76 444.00h2.9V446.53h-2.9zM79.06 440.19h2.9V445.26h-2.9zM87.65 429.80h2.9V442.73h-2.9zM91.95 428.04h2.9V430.83h-2.9zM96.25 422.97h2.9V429.31h-2.9zM100.54 410.81h2.9V423.23h-2.9zM104.84 406.12h2.9V411.57h-2.9zM117.73 410.30h2.9V416.26h-2.9zM126.33 390.91h2.9V422.59h-2.9zM134.92 379.89h2.9V394.71h-2.9zM165.01 375.07h2.9V382.42h-2.9zM173.60 403.20h2.9V416.26h-2.9zM177.90 381.41h2.9V403.96h-2.9zM182.20 376.59h2.9V381.66h-2.9zM195.09 383.94h2.9V385.21h-2.9zM207.98 392.79h2.9V402.04h-2.9zM216.58 392.79h2.9V396.59h-2.9zM229.47 389.37h2.9V396.97h-2.9zM233.77 387.34h2.9V391.52h-2.9zM238.06 374.16h2.9V387.72h-2.9zM246.66 375.43h2.9V379.23h-2.9zM250.96 374.67h2.9V375.68h-2.9zM255.25 372.90h2.9V375.43h-2.9zM272.44 373.40h2.9V386.84h-2.9zM276.74 350.08h2.9V373.78h-2.9zM281.04 336.97h2.9V350.34h-2.9zM285.34 326.46h2.9V337.23h-2.9zM293.93 328.10h2.9V333.68h-2.9zM302.53 316.95h2.9V330.89h-2.9zM319.72 323.03h2.9V327.72h-2.9zM324.01 321.01h2.9V323.54h-2.9zM332.61 319.74h2.9V321.77h-2.9zM336.91 318.47h2.9V320.12h-2.9zM341.20 308.08h2.9V318.85h-2.9zM349.80 309.98h2.9V311.63h-2.9zM354.10 304.91h2.9V310.36h-2.9zM366.99 306.18h2.9V310.61h-2.9zM371.29 298.57h2.9V306.81h-2.9zM379.88 288.57h2.9V299.09h-2.9zM392.77 298.33h2.9V301.88h-2.9zM397.07 288.95h2.9V298.71h-2.9zM405.67 299.98h2.9V303.15h-2.9zM422.86 333.66h2.9V336.19h-2.9zM431.45 342.02h2.9V345.45h-2.9zM444.34 374.97h2.9V377.13h-2.9zM448.64 363.82h2.9V375.86h-2.9zM452.94 351.15h2.9V364.08h-2.9zM457.24 348.36h2.9V351.78h-2.9zM461.53 342.91h2.9V349.25h-2.9zM474.43 354.32h2.9V367.37h-2.9zM487.32 347.98h2.9V360.02h-2.9zM495.91 342.02h2.9V348.87h-2.9zM504.51 341.01h2.9V353.68h-2.9zM513.10 335.01h2.9V342.87h-2.9zM521.70 351.49h2.9V356.81h-2.9zM526.00 344.13h2.9V352.12h-2.9zM530.29 341.98h2.9V344.51h-2.9zM534.59 325.12h2.9V342.36h-2.9zM551.78 348.70h2.9V349.96h-2.9zM560.38 347.05h2.9V350.22h-2.9zM564.67 339.45h2.9V347.68h-2.9zM573.27 341.35h2.9V343.63h-2.9zM581.86 338.18h2.9V342.87h-2.9zM599.05 365.21h2.9V378.13h-2.9zM603.35 357.86h2.9V365.84h-2.9zM607.65 356.97h2.9V358.62h-2.9zM616.24 370.28h2.9V373.45h-2.9zM633.43 374.08h2.9V378.90h-2.9zM646.32 381.05h2.9V392.08h-2.9zM654.92 375.09h2.9V383.96h-2.9zM659.22 371.80h2.9V375.60h-2.9zM689.30 407.58h2.9V424.06h-2.9zM693.60 394.91h2.9V408.22h-2.9zM697.89 394.02h2.9V395.54h-2.9zM706.49 393.01h2.9V398.08h-2.9zM715.09 379.32h2.9V399.09h-2.9zM732.27 382.62h2.9V394.02h-2.9zM749.47 380.97h2.9V393.64h-2.9zM753.76 379.72h2.9V380.99h-2.9zM762.36 380.10h2.9V383.90h-2.9zM766.65 379.09h2.9V380.10h-2.9zM770.95 375.92h2.9V379.72h-2.9zM779.55 377.57h2.9V382.89h-2.9zM783.85 373.01h2.9V377.82h-2.9zM792.44 388.92h2.9V389.92h-2.9zM796.74 383.14h2.9V389.23h-2.9zM805.33 382.64h2.9V386.95h-2.9zM809.63 377.19h2.9V383.14h-2.9zM813.93 355.64h2.9V377.82h-2.9zM831.12 398.81h2.9V405.15h-2.9z" fill="#00d0d2"/>
<path d="M6.00 476.06h2.9V480.75h-2.9zM14.59 474.16h2.9V478.21h-2.9zM27.49 458.95h2.9V468.08h-2.9zM36.08 464.02h2.9V471.88h-2.9zM48.97 459.20h2.9V461.49h-2.9zM53.27 461.23h2.9V468.46h-2.9zM57.57 468.27h2.9V469.27h-2.9zM83.35 440.19h2.9V443.11h-2.9zM109.14 406.12h2.9V410.81h-2.9zM113.44 410.30h2.9V416.26h-2.9zM122.03 410.30h2.9V422.59h-2.9zM130.63 390.53h2.9V394.71h-2.9zM139.22 379.89h2.9V382.04h-2.9zM143.52 381.15h2.9V391.54h-2.9zM147.82 391.29h2.9V393.83h-2.9zM152.11 393.07h2.9V394.33h-2.9zM156.41 394.08h2.9V397.88h-2.9zM160.71 379.50h2.9V382.67h-2.9zM169.30 375.70h2.9V416.26h-2.9zM186.49 375.70h2.9V377.35h-2.9zM190.79 376.34h2.9V385.21h-2.9zM199.39 383.92h2.9V396.59h-2.9zM203.68 396.21h2.9V402.04h-2.9zM212.28 393.17h2.9V396.59h-2.9zM220.87 392.79h2.9V395.71h-2.9zM225.17 395.33h2.9V396.59h-2.9zM242.36 373.78h2.9V379.23h-2.9zM259.55 372.90h2.9V382.27h-2.9zM263.85 376.95h2.9V381.01h-2.9zM268.14 380.12h2.9V386.46h-2.9zM289.63 327.09h2.9V334.06h-2.9zM298.23 328.10h2.9V331.14h-2.9zM306.82 316.95h2.9V318.85h-2.9zM311.12 317.96h2.9V321.01h-2.9zM315.42 320.75h2.9V327.72h-2.9zM328.31 320.75h2.9V321.77h-2.9zM345.50 307.83h2.9V311.63h-2.9zM358.39 304.28h2.9V306.18h-2.9zM362.69 304.85h2.9V305.85h-2.9zM375.58 297.83h2.9V299.98h-2.9zM384.18 288.57h2.9V298.71h-2.9zM388.48 298.33h2.9V301.88h-2.9zM401.37 288.95h2.9V303.15h-2.9zM409.96 300.87h2.9V318.99h-2.9zM414.26 318.36h2.9V330.78h-2.9zM418.56 329.86h2.9V336.19h-2.9zM427.15 333.41h2.9V345.45h-2.9zM435.75 342.02h2.9V370.79h-2.9zM440.05 370.16h2.9V376.50h-2.9zM465.83 342.91h2.9V359.01h-2.9zM470.13 359.77h2.9V367.37h-2.9zM478.72 353.94h2.9V356.47h-2.9zM483.02 355.58h2.9V359.77h-2.9zM491.62 347.35h2.9V349.25h-2.9zM500.21 342.02h2.9V353.43h-2.9zM508.81 341.09h2.9V343.25h-2.9zM517.40 335.01h2.9V356.81h-2.9zM538.89 325.50h2.9V331.84h-2.9zM543.18 331.21h2.9V347.43h-2.9zM547.48 347.05h2.9V349.96h-2.9zM556.08 348.70h2.9V350.47h-2.9zM568.97 340.08h2.9V343.25h-2.9zM577.56 341.09h2.9V342.87h-2.9zM586.16 337.80h2.9V342.87h-2.9zM590.46 341.98h2.9V363.90h-2.9zM594.75 363.14h2.9V378.10h-2.9zM611.94 356.97h2.9V373.45h-2.9zM620.54 370.02h2.9V371.80h-2.9zM624.84 371.29h2.9V376.61h-2.9zM629.13 375.98h2.9V378.90h-2.9zM637.73 374.33h2.9V383.96h-2.9zM642.03 383.96h2.9V392.08h-2.9zM650.62 380.16h2.9V383.96h-2.9zM663.51 372.18h2.9V377.25h-2.9zM667.81 376.87h2.9V380.67h-2.9zM672.11 380.16h2.9V383.96h-2.9zM676.41 393.01h2.9V396.81h-2.9zM680.70 395.80h2.9V417.72h-2.9zM685.00 417.09h2.9V424.06h-2.9zM702.19 394.02h2.9V398.08h-2.9zM710.79 393.01h2.9V399.09h-2.9zM719.38 379.70h2.9V383.89h-2.9zM723.68 383.12h2.9V391.11h-2.9zM727.98 391.74h2.9V394.28h-2.9zM736.57 382.24h2.9V383.50h-2.9zM740.87 383.50h2.9V391.74h-2.9zM745.17 389.84h2.9V392.76h-2.9zM758.06 379.72h2.9V383.90h-2.9zM775.25 375.92h2.9V382.64h-2.9zM788.14 373.01h2.9V389.86h-2.9zM801.03 383.90h2.9V386.95h-2.9zM818.23 355.01h2.9V358.81h-2.9zM822.52 358.18h2.9V398.81h-2.9zM826.82 398.81h2.9V405.15h-2.9zM835.41 398.81h2.9V405.40h-2.9z" fill="#ff4500"/>
</g>
<path d="M2.5 374.20H995.5" stroke="#a66c00" stroke-width="1.1" style="mix-blend-mode:lighten"/>
<path d="M2.5 394.85H995.5" stroke="#1b7d1b" stroke-width="1.3" style="mix-blend-mode:lighten"/>
<path d="M2.5 405.40H995.5" stroke="#303030" stroke-width="1.0" style="mix-blend-mode:lighten"/>
<path d="M2.5 435.85H995.5" stroke="#747474" stroke-width="1.8" style="mix-blend-mode:lighten"/>
<g filter="url(#bl)">
<path d="M2.53 479.23C3.37 479.15 5.87 478.95 7.53 478.79C9.20 478.64 10.87 478.50 12.53 478.29C14.20 478.09 15.87 477.85 17.53 477.55C19.20 477.25 20.87 476.84 22.53 476.50C24.20 476.16 25.87 475.80 27.53 475.52C29.20 475.24 30.87 475.03 32.53 474.82C34.20 474.60 35.87 474.42 37.53 474.22C39.20 474.02 40.87 473.81 42.53 473.62C44.20 473.42 45.87 473.22 47.53 473.06C49.20 472.90 50.87 472.76 52.53 472.65C54.20 472.55 55.87 472.55 57.53 472.43C59.20 472.32 60.87 472.28 62.53 471.97C64.20 471.67 65.87 471.22 67.53 470.61C69.20 470.00 70.87 469.13 72.53 468.30C74.20 467.48 75.87 466.54 77.53 465.68C79.20 464.82 80.87 464.01 82.53 463.17C84.20 462.33 85.87 461.53 87.53 460.63C89.20 459.74 90.87 458.78 92.53 457.79C94.20 456.79 95.87 455.72 97.53 454.65C99.20 453.57 100.87 452.44 102.53 451.33C104.20 450.22 105.87 449.07 107.53 447.97C109.20 446.87 110.87 445.79 112.53 444.72C114.20 443.65 115.87 442.61 117.53 441.56C119.20 440.50 120.87 439.51 122.53 438.38C124.20 437.24 125.87 436.10 127.53 434.75C129.20 433.41 130.87 431.84 132.53 430.33C134.20 428.82 135.87 427.19 137.53 425.70C139.20 424.21 140.87 422.79 142.53 421.39C144.20 419.98 145.87 418.61 147.53 417.28C149.20 415.96 150.87 414.67 152.53 413.46C154.20 412.24 155.87 411.10 157.53 409.98C159.20 408.86 160.87 407.75 162.53 406.73C164.20 405.72 165.87 404.75 167.53 403.88C169.20 403.01 170.87 402.28 172.53 401.49C174.20 400.71 175.87 399.94 177.53 399.17C179.20 398.40 180.87 397.57 182.53 396.85C184.20 396.13 185.87 395.43 187.53 394.83C189.20 394.24 190.87 393.73 192.53 393.27C194.20 392.82 195.87 392.47 197.53 392.11C199.20 391.74 200.87 391.39 202.53 391.07C204.20 390.75 205.87 390.39 207.53 390.21C209.20 390.02 210.87 389.96 212.53 389.96C214.20 389.95 215.87 390.10 217.53 390.19C219.20 390.29 220.87 390.45 222.53 390.53C224.20 390.61 225.87 390.69 227.53 390.67C229.20 390.65 230.87 390.54 232.53 390.40C234.20 390.26 235.87 390.03 237.53 389.83C239.20 389.62 240.87 389.36 242.53 389.16C244.20 388.96 245.87 388.83 247.53 388.64C249.20 388.44 250.87 388.29 252.53 387.99C254.20 387.69 255.87 387.19 257.53 386.82C259.20 386.45 260.87 386.01 262.53 385.75C264.20 385.49 265.87 385.41 267.53 385.26C269.20 385.11 270.87 385.13 272.53 384.86C274.20 384.60 275.87 384.28 277.53 383.67C279.20 383.07 280.87 382.20 282.53 381.24C284.20 380.28 285.87 379.10 287.53 377.92C289.20 376.73 290.87 375.45 292.53 374.13C294.20 372.82 295.87 371.43 297.53 370.00C299.20 368.57 300.87 367.07 302.53 365.57C304.20 364.07 305.87 362.50 307.53 361.01C309.20 359.51 310.87 357.97 312.53 356.58C314.20 355.18 315.87 353.85 317.53 352.63C319.20 351.41 320.87 350.36 322.53 349.27C324.20 348.19 325.87 347.19 327.53 346.10C329.20 345.01 330.87 343.91 332.53 342.74C334.20 341.57 335.87 340.37 337.53 339.09C339.20 337.80 340.87 336.41 342.53 335.02C344.20 333.63 345.87 332.13 347.53 330.74C349.20 329.36 350.87 327.96 352.53 326.70C354.20 325.43 355.87 324.22 357.53 323.14C359.20 322.07 360.87 321.09 362.53 320.26C364.20 319.43 365.87 318.79 367.53 318.15C369.20 317.51 370.87 317.06 372.53 316.43C374.20 315.81 375.87 315.10 377.53 314.40C379.20 313.70 380.87 312.85 382.53 312.22C384.20 311.59 385.87 311.08 387.53 310.62C389.20 310.17 390.87 309.90 392.53 309.48C394.20 309.06 395.87 308.61 397.53 308.13C399.20 307.65 400.87 307.03 402.53 306.62C404.20 306.21 405.87 305.83 407.53 305.66C409.20 305.50 410.87 305.52 412.53 305.62C414.20 305.71 415.87 305.96 417.53 306.23C419.20 306.50 420.87 306.84 422.53 307.27C424.20 307.69 425.87 308.16 427.53 308.79C429.20 309.41 430.87 310.14 432.53 311.04C434.20 311.93 435.87 313.00 437.53 314.14C439.20 315.28 440.87 316.63 442.53 317.87C444.20 319.11 445.87 320.44 447.53 321.58C449.20 322.72 450.87 323.73 452.53 324.71C454.20 325.68 455.87 326.48 457.53 327.42C459.20 328.36 460.87 329.27 462.53 330.33C464.20 331.39 465.87 332.59 467.53 333.77C469.20 334.96 470.87 336.22 472.53 337.44C474.20 338.65 475.87 339.86 477.53 341.07C479.20 342.29 480.87 343.53 482.53 344.70C484.20 345.88 485.87 347.09 487.53 348.12C489.20 349.16 490.87 350.14 492.53 350.91C494.20 351.68 495.87 352.25 497.53 352.74C499.20 353.23 500.87 353.57 502.53 353.86C504.20 354.15 505.87 354.35 507.53 354.49C509.20 354.63 510.87 354.70 512.53 354.68C514.20 354.67 515.87 354.62 517.53 354.41C519.20 354.20 520.87 353.84 522.53 353.43C524.20 353.01 525.87 352.45 527.53 351.93C529.20 351.40 530.87 350.81 532.53 350.28C534.20 349.74 535.87 349.15 537.53 348.71C539.20 348.27 540.87 347.89 542.53 347.63C544.20 347.37 545.87 347.29 547.53 347.15C549.20 347.01 550.87 346.94 552.53 346.79C554.20 346.64 555.87 346.44 557.53 346.23C559.20 346.02 560.87 345.78 562.53 345.54C564.20 345.29 565.87 345.02 567.53 344.78C569.20 344.54 570.87 344.30 572.53 344.10C574.20 343.91 575.87 343.75 577.53 343.62C579.20 343.49 580.87 343.36 582.53 343.33C584.20 343.31 585.87 343.29 587.53 343.46C589.20 343.63 590.87 343.97 592.53 344.35C594.20 344.73 595.87 345.32 597.53 345.73C599.20 346.13 600.87 346.47 602.53 346.77C604.20 347.06 605.87 347.19 607.53 347.48C609.20 347.77 610.87 348.05 612.53 348.53C614.20 349.01 615.87 349.62 617.53 350.34C619.20 351.06 620.87 352.03 622.53 352.85C624.20 353.68 625.87 354.56 627.53 355.29C629.20 356.02 630.87 356.58 632.53 357.23C634.20 357.88 635.87 358.49 637.53 359.20C639.20 359.90 640.87 360.72 642.53 361.46C644.20 362.21 645.87 362.96 647.53 363.68C649.20 364.40 650.87 365.07 652.53 365.76C654.20 366.46 655.87 367.15 657.53 367.85C659.20 368.54 660.87 369.23 662.53 369.93C664.20 370.63 665.87 371.32 667.53 372.05C669.20 372.77 670.87 373.51 672.53 374.30C674.20 375.09 675.87 375.93 677.53 376.81C679.20 377.69 680.87 378.64 682.53 379.57C684.20 380.50 685.87 381.51 687.53 382.40C689.20 383.29 690.87 384.18 692.53 384.90C694.20 385.62 695.87 386.19 697.53 386.71C699.20 387.23 700.87 387.62 702.53 388.02C704.20 388.42 705.87 388.79 707.53 389.11C709.20 389.44 710.87 389.72 712.53 389.97C714.20 390.23 715.87 390.46 717.53 390.64C719.20 390.82 720.87 390.97 722.53 391.06C724.20 391.15 725.87 391.13 727.53 391.17C729.20 391.21 730.87 391.20 732.53 391.30C734.20 391.41 735.87 391.61 737.53 391.81C739.20 392.01 740.87 392.29 742.53 392.50C744.20 392.70 745.87 392.90 747.53 393.03C749.20 393.16 750.87 393.25 752.53 393.27C754.20 393.29 755.87 393.29 757.53 393.12C759.20 392.95 760.87 392.71 762.53 392.24C764.20 391.78 765.87 391.03 767.53 390.35C769.20 389.67 770.87 388.79 772.53 388.17C774.20 387.56 775.87 387.08 777.53 386.64C779.20 386.20 780.87 385.87 782.53 385.54C784.20 385.21 785.87 384.88 787.53 384.67C789.20 384.45 790.87 384.35 792.53 384.25C794.20 384.16 795.87 384.16 797.53 384.10C799.20 384.05 800.87 384.03 802.53 383.93C804.20 383.83 805.87 383.74 807.53 383.50C809.20 383.27 810.87 382.87 812.53 382.49C814.20 382.12 815.87 381.54 817.53 381.25C819.20 380.97 820.87 380.78 822.53 380.76C824.20 380.75 825.87 380.96 827.53 381.17C829.20 381.38 830.87 381.70 832.53 382.03C834.20 382.36 836.70 382.96 837.53 383.14" stroke="#3d5ccc" stroke-width="1.3" fill="none" stroke-linejoin="round" stroke-linecap="round"/>
</g>
<path d="M2.5 268.90V489.80H995.5V268.90H2.5" stroke="#414b5c" stroke-width="1" fill="none"/>
<path d="M843.2 268.90h5l-2.5 3.1z" fill="#626262"/>
<path d="M3.00 489.80v2" stroke="#414b5c" stroke-width=".8"/>
<text filter="url(#bt1)" x="2.70" y="496.60" font-size="4.85" fill="#8a9bb2" text-anchor="start" >8 Jan 2026</text>
<path d="M37.36 489.80v2" stroke="#414b5c" stroke-width=".8"/>
<text filter="url(#bt1)" x="37.66" y="496.60" font-size="4.85" fill="#8a9bb2" text-anchor="start" >8 Jan 19:00</text>
<path d="M71.72 489.80v2" stroke="#414b5c" stroke-width=".8"/>
<text filter="url(#bt1)" x="72.02" y="496.60" font-size="4.85" fill="#8a9bb2" text-anchor="start" >9 Jan 03:00</text>
<path d="M106.08 489.80v2" stroke="#414b5c" stroke-width=".8"/>
<text filter="url(#bt1)" x="106.38" y="496.60" font-size="4.85" fill="#8a9bb2" text-anchor="start" >9 Jan 11:00</text>
<path d="M140.44 489.80v2" stroke="#414b5c" stroke-width=".8"/>
<text filter="url(#bt1)" x="140.74" y="496.60" font-size="4.85" fill="#8a9bb2" text-anchor="start" >9 Jan 19:00</text>
<path d="M174.80 489.80v2" stroke="#414b5c" stroke-width=".8"/>
<text filter="url(#bt1)" x="175.10" y="496.60" font-size="4.85" fill="#8a9bb2" text-anchor="start" >12 Jan 03:00</text>
<path d="M209.16 489.80v2" stroke="#414b5c" stroke-width=".8"/>
<text filter="url(#bt1)" x="209.46" y="496.60" font-size="4.85" fill="#8a9bb2" text-anchor="start" >12 Jan 11:00</text>
<path d="M243.52 489.80v2" stroke="#414b5c" stroke-width=".8"/>
<text filter="url(#bt1)" x="243.82" y="496.60" font-size="4.85" fill="#8a9bb2" text-anchor="start" >12 Jan 19:00</text>
<path d="M277.88 489.80v2" stroke="#414b5c" stroke-width=".8"/>
<text filter="url(#bt1)" x="278.18" y="496.60" font-size="4.85" fill="#8a9bb2" text-anchor="start" >13 Jan 03:00</text>
<path d="M312.24 489.80v2" stroke="#414b5c" stroke-width=".8"/>
<text filter="url(#bt1)" x="312.54" y="496.60" font-size="4.85" fill="#8a9bb2" text-anchor="start" >13 Jan 11:00</text>
<path d="M346.60 489.80v2" stroke="#414b5c" stroke-width=".8"/>
<text filter="url(#bt1)" x="346.90" y="496.60" font-size="4.85" fill="#8a9bb2" text-anchor="start" >13 Jan 19:00</text>
<path d="M380.96 489.80v2" stroke="#414b5c" stroke-width=".8"/>
<text filter="url(#bt1)" x="381.26" y="496.60" font-size="4.85" fill="#8a9bb2" text-anchor="start" >14 Jan 03:00</text>
<path d="M415.32 489.80v2" stroke="#414b5c" stroke-width=".8"/>
<text filter="url(#bt1)" x="415.62" y="496.60" font-size="4.85" fill="#8a9bb2" text-anchor="start" >14 Jan 11:00</text>
<path d="M449.68 489.80v2" stroke="#414b5c" stroke-width=".8"/>
<text filter="url(#bt1)" x="449.98" y="496.60" font-size="4.85" fill="#8a9bb2" text-anchor="start" >14 Jan 19:00</text>
<path d="M484.04 489.80v2" stroke="#414b5c" stroke-width=".8"/>
<text filter="url(#bt1)" x="484.34" y="496.60" font-size="4.85" fill="#8a9bb2" text-anchor="start" >15 Jan 03:00</text>
<path d="M518.40 489.80v2" stroke="#414b5c" stroke-width=".8"/>
<text filter="url(#bt1)" x="518.70" y="496.60" font-size="4.85" fill="#8a9bb2" text-anchor="start" >15 Jan 11:00</text>
<path d="M552.76 489.80v2" stroke="#414b5c" stroke-width=".8"/>
<text filter="url(#bt1)" x="553.06" y="496.60" font-size="4.85" fill="#8a9bb2" text-anchor="start" >15 Jan 19:00</text>
<path d="M587.12 489.80v2" stroke="#414b5c" stroke-width=".8"/>
<text filter="url(#bt1)" x="587.42" y="496.60" font-size="4.85" fill="#8a9bb2" text-anchor="start" >16 Jan 03:00</text>
<path d="M621.48 489.80v2" stroke="#414b5c" stroke-width=".8"/>
<text filter="url(#bt1)" x="621.78" y="496.60" font-size="4.85" fill="#8a9bb2" text-anchor="start" >16 Jan 11:00</text>
<path d="M655.84 489.80v2" stroke="#414b5c" stroke-width=".8"/>
<text filter="url(#bt1)" x="656.14" y="496.60" font-size="4.85" fill="#8a9bb2" text-anchor="start" >16 Jan 19:00</text>
<path d="M690.20 489.80v2" stroke="#414b5c" stroke-width=".8"/>
<text filter="url(#bt1)" x="690.50" y="496.60" font-size="4.85" fill="#8a9bb2" text-anchor="start" >19 Jan 03:00</text>
<path d="M724.56 489.80v2" stroke="#414b5c" stroke-width=".8"/>
<text filter="url(#bt1)" x="724.86" y="496.60" font-size="4.85" fill="#8a9bb2" text-anchor="start" >19 Jan 11:00</text>
<path d="M758.92 489.80v2" stroke="#414b5c" stroke-width=".8"/>
<text filter="url(#bt1)" x="759.22" y="496.60" font-size="4.85" fill="#8a9bb2" text-anchor="start" >19 Jan 19:00</text>
<path d="M793.28 489.80v2" stroke="#414b5c" stroke-width=".8"/>
<text filter="url(#bt1)" x="793.58" y="496.60" font-size="4.85" fill="#8a9bb2" text-anchor="start" >20 Jan 03:00</text>
<path d="M827.64 489.80v2" stroke="#414b5c" stroke-width=".8"/>
<text filter="url(#bt1)" x="827.94" y="496.60" font-size="4.85" fill="#8a9bb2" text-anchor="start" >20 Jan 11:00</text>
<path d="M995.5 275.80h1.6" stroke="#414b5c" stroke-width=".8"/>
<text filter="url(#bt1)" x="999.00" y="277.50" font-size="4.85" fill="#8a9bb2" text-anchor="start" >159.515</text>
<path d="M995.5 293.54h1.6" stroke="#414b5c" stroke-width=".8"/>
<text filter="url(#bt1)" x="999.00" y="295.24" font-size="4.85" fill="#8a9bb2" text-anchor="start" >159.270</text>
<path d="M995.5 311.28h1.6" stroke="#414b5c" stroke-width=".8"/>
<text filter="url(#bt1)" x="999.00" y="312.98" font-size="4.85" fill="#8a9bb2" text-anchor="start" >159.020</text>
<path d="M995.5 329.02h1.6" stroke="#414b5c" stroke-width=".8"/>
<text filter="url(#bt1)" x="999.00" y="330.72" font-size="4.85" fill="#8a9bb2" text-anchor="start" >158.775</text>
<path d="M995.5 346.76h1.6" stroke="#414b5c" stroke-width=".8"/>
<text filter="url(#bt1)" x="999.00" y="348.46" font-size="4.85" fill="#8a9bb2" text-anchor="start" >158.530</text>
<path d="M995.5 364.50h1.6" stroke="#414b5c" stroke-width=".8"/>
<text filter="url(#bt1)" x="999.00" y="366.20" font-size="4.85" fill="#8a9bb2" text-anchor="start" >158.285</text>
<path d="M995.5 382.24h1.6" stroke="#414b5c" stroke-width=".8"/>
<text filter="url(#bt1)" x="999.00" y="383.94" font-size="4.85" fill="#8a9bb2" text-anchor="start" >158.040</text>
<path d="M995.5 399.98h1.6" stroke="#414b5c" stroke-width=".8"/>
<text filter="url(#bt1)" x="999.00" y="401.68" font-size="4.85" fill="#8a9bb2" text-anchor="start" >157.795</text>
<path d="M995.5 417.72h1.6" stroke="#414b5c" stroke-width=".8"/>
<text filter="url(#bt1)" x="999.00" y="419.42" font-size="4.85" fill="#8a9bb2" text-anchor="start" >157.550</text>
<path d="M995.5 435.46h1.6" stroke="#414b5c" stroke-width=".8"/>
<text filter="url(#bt1)" x="999.00" y="437.16" font-size="4.85" fill="#8a9bb2" text-anchor="start" ></text>
<path d="M995.5 453.20h1.6" stroke="#414b5c" stroke-width=".8"/>
<text filter="url(#bt1)" x="999.00" y="454.90" font-size="4.85" fill="#8a9bb2" text-anchor="start" >157.060</text>
<path d="M995.5 470.94h1.6" stroke="#414b5c" stroke-width=".8"/>
<text filter="url(#bt1)" x="999.00" y="472.64" font-size="4.85" fill="#8a9bb2" text-anchor="start" >156.815</text>
<path d="M995.5 488.68h1.6" stroke="#414b5c" stroke-width=".8"/>
<text filter="url(#bt1)" x="999.00" y="490.38" font-size="4.85" fill="#8a9bb2" text-anchor="start" >156.565</text>
<rect x="996.5" y="370.60" width="22" height="5.9" fill="#ffa500"/>
<text filter="url(#bt1)" x="999.00" y="375.25" font-size="4.85" fill="#000" text-anchor="start" >158.154</text>
<rect x="996.5" y="391.80" width="22" height="5.9" fill="#32cd32"/>
<text filter="url(#bt1)" x="999.00" y="396.45" font-size="4.85" fill="#000" text-anchor="start" >157.863</text>
<rect x="996.5" y="402.25" width="22" height="5.9" fill="#8c9bb0"/>
<text filter="url(#bt1)" x="999.00" y="406.90" font-size="4.85" fill="#fff" text-anchor="start" >157.722</text>
<rect x="996.5" y="432.40" width="22" height="5.9" fill="#fff"/>
<text filter="url(#bt1)" x="999.00" y="437.05" font-size="4.85" fill="#000" text-anchor="start" >157.294</text>
<path d="M4.3 272.50h3.3l-1.65 2z" fill="#c4c4c4"/>
<text filter="url(#bt1)" x="10.80" y="274.65" font-size="4.85" fill="#b8bcc2" text-anchor="start" textLength="40.2" lengthAdjust="spacingAndGlyphs">USDJPY.oj1m,H1</text>
<text filter="url(#bt1)" x="54.50" y="274.65" font-size="4.85" fill="#b8bcc2" text-anchor="start" textLength="17.5" lengthAdjust="spacingAndGlyphs">157.805</text>
<text filter="url(#bt1)" x="73.83" y="274.65" font-size="4.85" fill="#b8bcc2" text-anchor="start" textLength="17.5" lengthAdjust="spacingAndGlyphs">157.908</text>
<text filter="url(#bt1)" x="93.16" y="274.65" font-size="4.85" fill="#b8bcc2" text-anchor="start" textLength="17.5" lengthAdjust="spacingAndGlyphs">157.719</text>
<text filter="url(#bt1)" x="112.49" y="274.65" font-size="4.85" fill="#b8bcc2" text-anchor="start" textLength="17.5" lengthAdjust="spacingAndGlyphs">157.722</text>
<text filter="url(#bt1)" x="2.60" y="285.30" font-size="12.55" fill="#e80000" text-anchor="start" >USD JPY</text>
<g filter="url(#bt1)" transform="translate(67,275.80)" stroke="#f2f2f2" stroke-width="1.4" fill="none" stroke-linecap="round"><path d="M8.2 -.6C7.4 3.4 4.6 7 .6 9.3"/><path d="M2.9 2.7C4.9 3.7 6.8 5.2 8.2 6.8"/><path d="M21.4 -.3C19.4 2.4 16.6 4.6 13.3 6"/><path d="M18.65 3.2L18.9 9.8"/><path d="M27 .9C28.5 1.4 30 2.1 31.1 3"/><path d="M36.7 2.7C34.6 6 31.4 8.4 27.5 9.3"/></g>
<text filter="url(#bt1)" x="993.20" y="284.60" font-size="17.6" fill="#3cb371" text-anchor="end" >H1</text>
<g transform="translate(1.60,-1.00)" opacity="0.85"><rect x="-.5" y="0" width="6.1" height="5.2" rx=".9" fill="#e4edff" stroke="#6593e8" stroke-width=".8"/><rect x="-.5" y="0" width="6.1" height="1.5" rx=".7" fill="#6f9cec"/><rect x=".6" y="2.2" width="1.2" height="1.6" fill="#8fb2f2"/><rect x="2.6" y="2.2" width="1.2" height="1.6" fill="#8fb2f2"/><rect x="1.2" y="3.1" width="6.4" height="4.8" rx=".9" fill="#e9f0ff" stroke="#6593e8" stroke-width=".8"/><rect x="1.2" y="3.1" width="6.4" height="1.4" rx=".7" fill="#6f9cec"/><rect x="2.4" y="5.3" width="1.3" height="1.5" fill="#fff"/><rect x="4.2" y="5.2" width="2.4" height="1.7" fill="#9fbdf4"/></g>
<text x="12" y="6.5" font-size="5.75" fill="#a4abb9" stroke="#a4abb9" stroke-width=".1">USDJPY.oj1m,H4</text>
<rect x="966.3" y="-2" width="17.0" height="10.1" rx="1.2" fill="url(#bt)" stroke="#a6b2c4" stroke-width=".7"/>
<rect x="985.1" y="-2" width="16.2" height="10.1" rx="1.2" fill="url(#bt)" stroke="#a6b2c4" stroke-width=".7"/>
<rect x="1003.1" y="-2" width="16.6" height="10.1" rx="1.2" fill="url(#bt)" stroke="#a6b2c4" stroke-width=".7"/>
<rect x="972" y="3.6" width="5.8" height="1.9" rx=".5" fill="#f4f6fa" stroke="#8a909c" stroke-width=".6"/>
<rect x="990.3" y="1.3" width="5.4" height="4.2" fill="#eef2f8" stroke="#8a909c" stroke-width=".7"/><rect x="992" y="3" width="2.8" height="1.2" fill="#6a7488"/>
<path d="M1008.6 1.4L1013.6 5.4M1013.6 1.4L1008.6 5.4" stroke="#8a909c" stroke-width="2.5"/><path d="M1008.9 1.6L1013.3 5.2M1013.3 1.6L1008.9 5.2" stroke="#f2f4f8" stroke-width="1"/>
<g transform="translate(2.00,256.00)" opacity="1.0"><rect x="-.5" y="0" width="6.1" height="5.2" rx=".9" fill="#e4edff" stroke="#6593e8" stroke-width=".8"/><rect x="-.5" y="0" width="6.1" height="1.5" rx=".7" fill="#6f9cec"/><rect x=".6" y="2.2" width="1.2" height="1.6" fill="#8fb2f2"/><rect x="2.6" y="2.2" width="1.2" height="1.6" fill="#8fb2f2"/><rect x="1.2" y="3.1" width="6.4" height="4.8" rx=".9" fill="#e9f0ff" stroke="#6593e8" stroke-width=".8"/><rect x="1.2" y="3.1" width="6.4" height="1.4" rx=".7" fill="#6f9cec"/><rect x="2.4" y="5.3" width="1.3" height="1.5" fill="#fff"/><rect x="4.2" y="5.2" width="2.4" height="1.7" fill="#9fbdf4"/></g>
<text x="12" y="262.6" font-size="5.75" fill="#3a4660" stroke="#3a4660" stroke-width=".12">USDJPY.oj1m,H1</text>
<rect x="966.6" y="255.5" width="16.6" height="8.9" rx="1.2" fill="url(#bt2)" stroke="#6f84a8" stroke-width=".7"/>
<rect x="967.2" y="256.1" width="15.4" height="7.7" rx=".9" fill="none" stroke="#e4ecf8" stroke-width=".5" opacity=".8"/>
<rect x="985.3" y="255.5" width="16.2" height="8.9" rx="1.2" fill="url(#bt2)" stroke="#6f84a8" stroke-width=".7"/>
<rect x="985.9" y="256.1" width="15.0" height="7.7" rx=".9" fill="none" stroke="#e4ecf8" stroke-width=".5" opacity=".8"/>
<rect x="1003.3" y="255.5" width="16.6" height="8.9" rx="1.2" fill="url(#cl)" stroke="#7c3c40" stroke-width=".7"/>
<rect x="1003.9" y="256.1" width="15.4" height="7.7" rx=".9" fill="none" stroke="#f2b8a8" stroke-width=".5" opacity=".8"/>
<rect x="972.2" y="259.7" width="5.4" height="1.9" rx=".5" fill="#f4f6fa" stroke="#6a7890" stroke-width=".6"/>
<rect x="990.6" y="257.6" width="4.8" height="4.4" fill="#eef2f8" stroke="#6a7890" stroke-width=".7"/><rect x="991.9" y="259.2" width="2.4" height="1.6" fill="#55627c"/>
<path d="M1009 257.7L1014 262.1M1014 257.7L1009 262.1" stroke="#7a5058" stroke-width="2.3"/><path d="M1009.3 257.9L1013.7 261.9M1013.7 257.9L1009.3 261.9" stroke="#fff" stroke-width="1.2"/>
</svg>
</body></html>
